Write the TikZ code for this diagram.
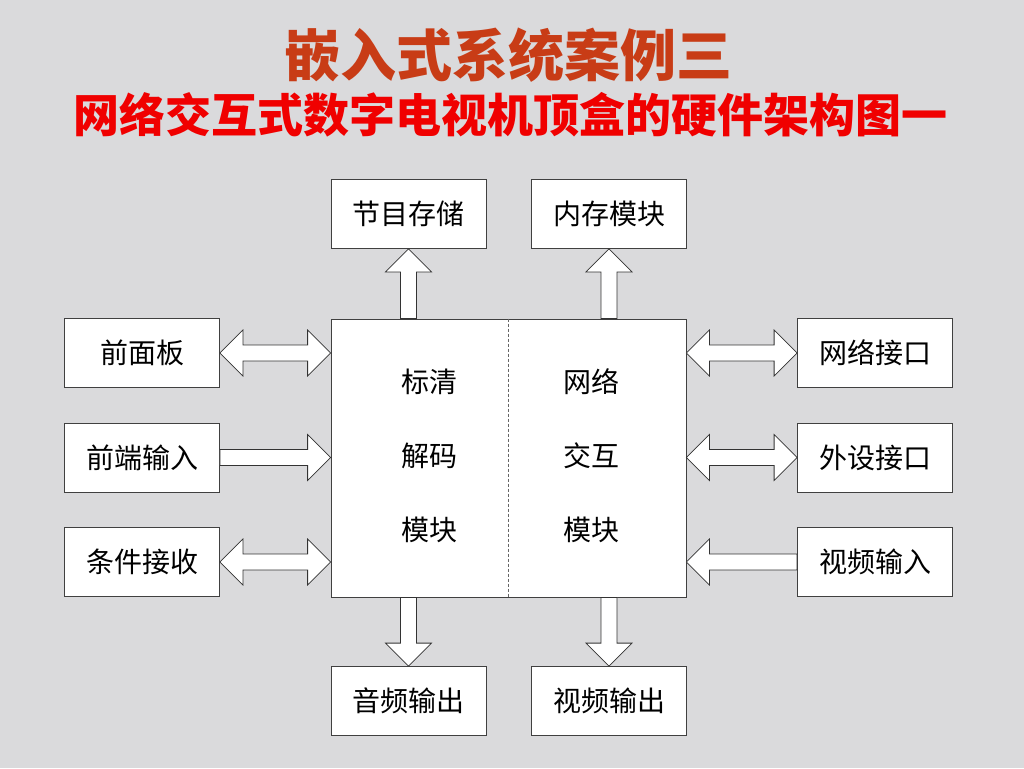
\documentclass[tikz,border=0pt]{standalone}
\usepackage{fontspec}
\newfontfamily\cjk{Noto Sans CJK SC}
\usepackage{tikz}
\usetikzlibrary{calc}
\definecolor{marble}{RGB}{218,218,220}
\definecolor{titleorange}{RGB}{200,60,22}
\definecolor{titlered}{RGB}{240,0,0}
\tikzset{
  box/.style={draw=black!75,fill=white,line width=0.8pt,minimum width=155,minimum height=69,inner sep=0pt,font=\cjk\fontsize{28}{28}\selectfont},
  core/.style={draw=black!75,fill=white,line width=0.8pt,minimum width=355,minimum height=278,inner sep=0pt},
  word/.style={inner sep=0pt,font=\cjk\fontsize{28}{28}\selectfont},
  blk/.style={draw=black!80,fill=white,line width=0.8pt,line join=miter},
  titleA/.style={inner sep=0pt,font=\cjk\bfseries\fontsize{56}{56}\selectfont},
  titleB/.style={inner sep=0pt,font=\cjk\bfseries\fontsize{46}{46}\selectfont}
}
% block arrow: tail #1, tip #2
\newcommand{\blkarrow}[2]{%
  \coordinate (bh) at ($(#2)!23pt!(#1)$);
  \draw[blk] ($(#1)!8pt!90:(#2)$) -- ($(bh)!8pt!-90:(#1)$) -- ($(bh)!23pt!-90:(#1)$)
    -- (#2) -- ($(bh)!23pt!90:(#1)$) -- ($(bh)!8pt!90:(#1)$) -- ($(#1)!8pt!-90:(#2)$) -- cycle;}
% block arrow with two heads
\newcommand{\blkdbl}[2]{%
  \coordinate (bh1) at ($(#1)!23pt!(#2)$);
  \coordinate (bh2) at ($(#2)!23pt!(#1)$);
  \draw[blk] (#1) -- ($(bh1)!23pt!90:(#2)$) -- ($(bh1)!8pt!90:(#2)$) -- ($(bh2)!8pt!-90:(#1)$)
    -- ($(bh2)!23pt!-90:(#1)$) -- (#2) -- ($(bh2)!23pt!90:(#1)$) -- ($(bh2)!8pt!90:(#1)$)
    -- ($(bh1)!8pt!-90:(#2)$) -- ($(bh1)!23pt!-90:(#2)$) -- cycle;}
\begin{document}
\begin{tikzpicture}[x=1pt,y=-1pt]
  \fill[marble] (0,0) rectangle (1024,768);
  \useasboundingbox (0,0) rectangle (1024,768);

  % titles
  \node[titleA,text=titleorange] (ttl) at (508,55) {嵌入式系统案例三};
  \node[titleB,text=titlered] (sub) at (510,115) {网络交互式数字电视机顶盒的硬件架构图一};

  % centre block
  \node[core] (core) at (508.5,458) {};
  \draw[densely dashed,black!60] (core.north) -- (core.south);
  \node[word] (sdA) at (429,381.5) {标清};
  \node[word] (sdB) at (429,456) {解码};
  \node[word] (sdC) at (429,530) {模块};
  \node[word] (niA) at (591.5,381.5) {网络};
  \node[word] (niB) at (591.5,456) {交互};
  \node[word] (niC) at (591.5,530) {模块};

  % boxes
  \node[box] (prog) at (408.5,214) {节目存储};
  \node[box] (mem) at (609,214) {内存模块};
  \node[box] (fp) at (142,353) {前面板};
  \node[box] (fe) at (142,457.5) {前端输入};
  \node[box] (ca) at (142,562) {条件接收};
  \node[box] (net) at (875,353) {网络接口};
  \node[box] (per) at (875,457.5) {外设接口};
  \node[box] (vin) at (875,562) {视频输入};
  \node[box] (aud) at (408.5,701) {音频输出};
  \node[box] (vout) at (609,701) {视频输出};

  % connectors
  \coordinate (progA) at (core.north -| prog.south);
  \coordinate (memA) at (core.north -| mem.south);
  \coordinate (audA) at (core.south -| aud.north);
  \coordinate (voutA) at (core.south -| vout.north);
  \coordinate (fpA) at (fp.east -| core.west);
  \coordinate (feA) at (fe.east -| core.west);
  \coordinate (caA) at (ca.east -| core.west);
  \coordinate (netA) at (net.west -| core.east);
  \coordinate (perA) at (per.west -| core.east);
  \coordinate (vinA) at (vin.west -| core.east);
  \blkarrow{progA}{prog.south}
  \blkarrow{memA}{mem.south}
  \blkarrow{audA}{aud.north}
  \blkarrow{voutA}{vout.north}
  \blkdbl{fp.east}{fpA}
  \blkarrow{fe.east}{feA}
  \blkdbl{ca.east}{caA}
  \blkdbl{netA}{net.west}
  \blkdbl{perA}{per.west}
  \blkarrow{vin.west}{vinA}
\end{tikzpicture}
\end{document}
